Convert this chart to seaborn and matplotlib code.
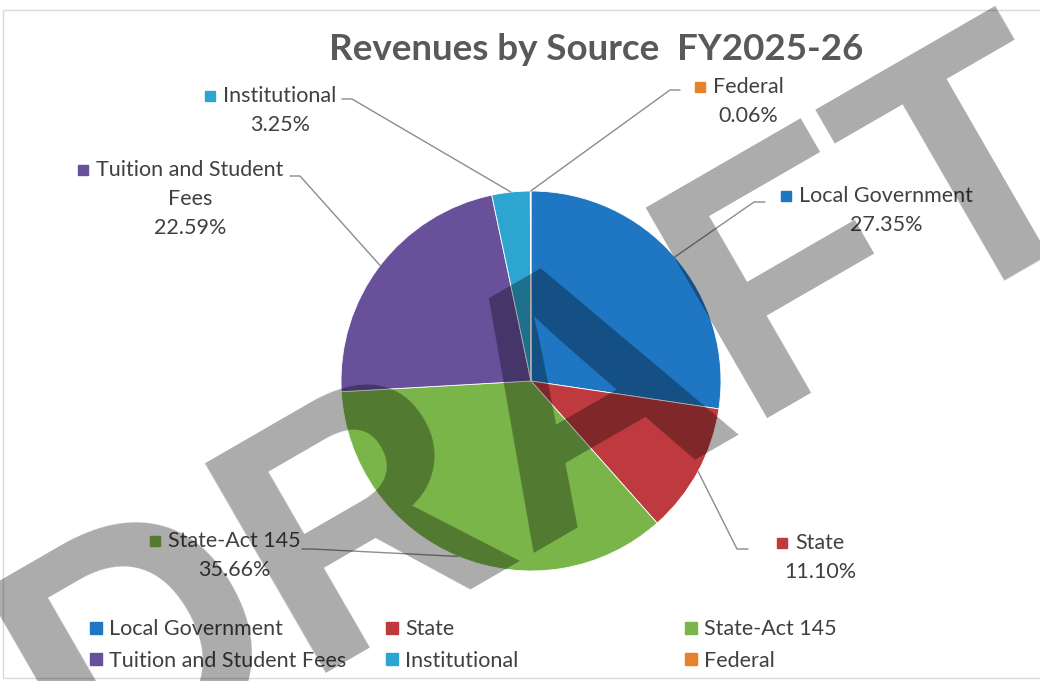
import matplotlib
matplotlib.use("Agg")
import matplotlib.pyplot as plt
import seaborn as sns
import numpy as np
from matplotlib.legend import Legend
from matplotlib.lines import Line2D
from matplotlib.patches import Rectangle

# Data
sources = ["Local Government", "State", "State-Act 145",
           "Tuition and Student Fees", "Institutional", "Federal"]
shares = [27.35, 11.10, 35.66, 22.59, 3.25, 0.06]
colors = ["#1F77C4", "#BF3A3E", "#7AB54A", "#68509B", "#2CA5D0", "#E8822A"]
label_lines = [["Local Government"], ["State"], ["State-Act 145"],
               ["Tuition and Student", "Fees"], ["Institutional"], ["Federal"]]

# Layout (image pixels, y measured from the top)
W, H = 1040, 681
label_center = [(886, 196), (820, 543), (234, 541), (190, 170), (280, 96), (748, 87)]
leader_start = [(765, 202), (748, 549), (302, 549), (290, 176), (342, 99), (680, 90)]
leader_knee = [(754, 202), (737, 549), (312, 549), (300, 176), (352, 99), (670, 90)]
legend_cols = [[0, 3], [1, 4], [2, 5]]
legend_x = [90, 386, 685]


def Y(y):
    return H - y


sns.set_theme(style="white")
plt.rcParams["font.family"] = ["Lato", "DejaVu Sans"]

fig = plt.figure(figsize=(W / 100, H / 100), dpi=100)
ax = fig.add_axes([0, 0, 1, 1])

cx, cy, r = 531, Y(381), 190
wedges, _ = ax.pie(shares, colors=colors, startangle=90, counterclock=False,
                   center=(cx, cy), radius=r, frame=True,
                   wedgeprops=dict(edgecolor="white", linewidth=0.6))
ax.set_xlim(0, W)
ax.set_ylim(0, H)
ax.axis("off")

# chart border
ax.add_patch(Rectangle((3, Y(678)), W + 10, 668, fill=False,
                       edgecolor="#d9d9d9", linewidth=1, zorder=0))

ax.text(596, Y(50), "Revenues by Source  FY2025-26", ha="center", va="center",
        fontsize=26.5, fontweight="bold", color="#595959")

renderer = fig.canvas.get_renderer()
text_color = "#404040"
for i, w in enumerate(wedges):
    mid = np.deg2rad((w.theta1 + w.theta2) / 2)
    ax_pt = (cx + r * np.cos(mid), cy + r * np.sin(mid))
    sx, sy = leader_start[i]
    kx, ky = leader_knee[i]
    ax.plot([sx, kx, ax_pt[0]], [Y(sy), Y(ky), ax_pt[1]], color="#8c8c8c",
            linewidth=1, zorder=1)
    lx, ly = label_center[i]
    lines = label_lines[i] + [f"{shares[i]:.2f}%"]
    for k, line in enumerate(lines):
        t = ax.text(lx, Y(ly + 29 * k), line, ha="center", va="center",
                    fontsize=15.5, color=text_color)
        if k == 0:
            bb = t.get_window_extent(renderer)
            ax.plot(bb.x0 - 13, Y(ly), marker="s", markersize=7,
                    color=colors[i], linestyle="")

# legend in three columns
for col, x0 in zip(legend_cols, legend_x):
    handles = [Line2D([], [], marker="s", linestyle="", markersize=8,
                      color=colors[i]) for i in col]
    leg = Legend(ax, handles, [sources[i] for i in col], loc="center left",
                 bbox_to_anchor=(x0 / W, 1 - 645 / H),
                 bbox_transform=fig.transFigure, frameon=False, fontsize=15.5,
                 handlelength=0.6, handletextpad=0.3, labelspacing=0.55,
                 borderpad=0, borderaxespad=0, labelcolor=text_color)
    ax.add_artist(leg)

# DRAFT watermark
ax.text(82, Y(800), "DRAFT", rotation=30, ha="left", va="baseline",
        fontsize=254, family="Liberation Sans", fontweight="bold",
        color="black", alpha=0.33, zorder=10, rotation_mode="anchor")

fig.savefig("out.png", dpi=100)
